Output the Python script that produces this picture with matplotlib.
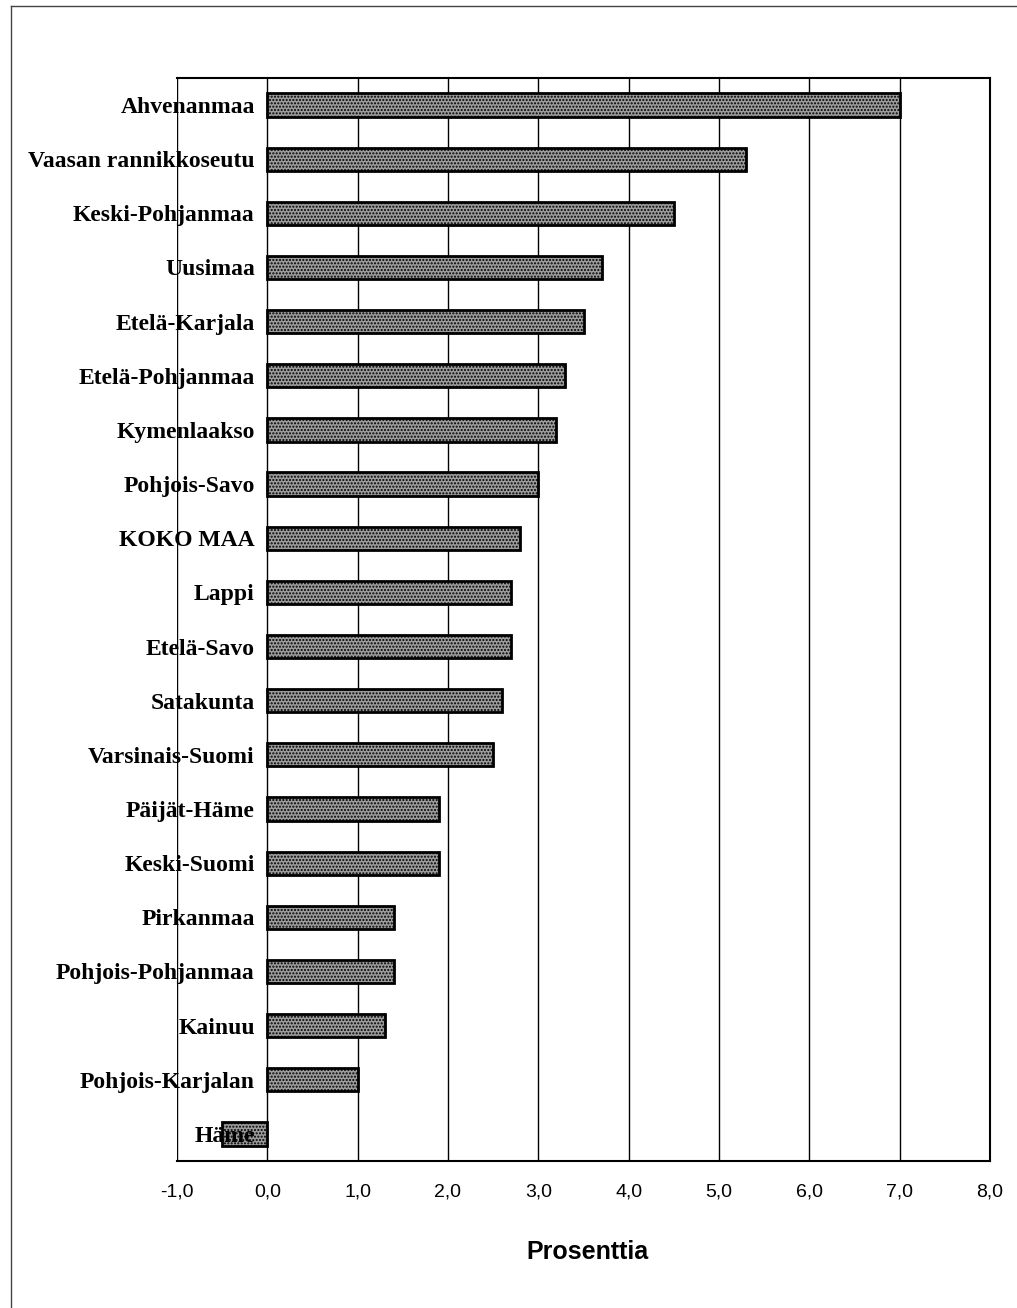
import numpy as np
import matplotlib
matplotlib.use("Agg")
import matplotlib.pyplot as plt
from matplotlib.lines import Line2D

# Regions, top to bottom, and change in percent
regions = ["Ahvenanmaa", "Vaasan rannikkoseutu", "Keski-Pohjanmaa", "Uusimaa",
           "Etelä-Karjala", "Etelä-Pohjanmaa", "Kymenlaakso", "Pohjois-Savo",
           "KOKO MAA", "Lappi", "Etelä-Savo", "Satakunta", "Varsinais-Suomi",
           "Päijät-Häme", "Keski-Suomi", "Pirkanmaa", "Pohjois-Pohjanmaa",
           "Kainuu", "Pohjois-Karjalan", "Häme"]
values = [7.0, 5.3, 4.5, 3.7, 3.5, 3.3, 3.2, 3.0, 2.8, 2.7, 2.7, 2.6, 2.5,
          1.9, 1.9, 1.4, 1.4, 1.3, 1.0, -0.5]
xticks = [-1, 0, 1, 2, 3, 4, 5, 6, 7, 8]
xticklabels = ["-1,0", "0,0", "1,0", "2,0", "3,0", "4,0", "5,0", "6,0", "7,0", "8,0"]

fig = plt.figure(figsize=(10.17, 13.08), dpi=100)
ax = fig.add_axes([0.174, 0.1124, 0.7995, 0.828])

y = np.arange(len(regions))[::-1]
ax.barh(y, values, height=0.43, color="#9c9c9c", edgecolor="black",
        hatch=".....", linewidth=2, zorder=3)

ax.set_xlim(-1, 8)
ax.set_ylim(-0.5, len(regions) - 0.5)
ax.set_xticks(xticks)
ax.set_xticklabels(xticklabels, family="Liberation Sans", fontsize=14)
ax.tick_params(axis="x", length=0, pad=16)
ax.grid(axis="x", color="black", linewidth=1, zorder=1)
ax.grid(axis="y", visible=False)

# category labels sit at the zero line, drawn over the bars
ax.spines["left"].set_position(("data", 0))
ax.spines["left"].set_visible(False)
ax.set_yticks(y)
ax.set_yticklabels(regions, family="Liberation Serif", fontweight="bold", fontsize=17)
ax.tick_params(axis="y", length=0, pad=9)
ax.yaxis.set_zorder(5)
for s in ["top", "right", "bottom"]:
    ax.spines[s].set_linewidth(1.5)

fig.text(0.578, 1 - 1252 / 1308, "Prosenttia", family="Liberation Sans",
         fontweight="bold", fontsize=18, ha="center", va="center")

# outer frame (left and top edges only, as in the scan)
fig.add_artist(Line2D([11 / 1017, 11 / 1017], [0, 1 - 6 / 1308],
                      transform=fig.transFigure, color="#444444", linewidth=1))
fig.add_artist(Line2D([11 / 1017, 1], [1 - 6 / 1308, 1 - 6 / 1308],
                      transform=fig.transFigure, color="#444444", linewidth=1))

fig.savefig("out.png", dpi=100)
